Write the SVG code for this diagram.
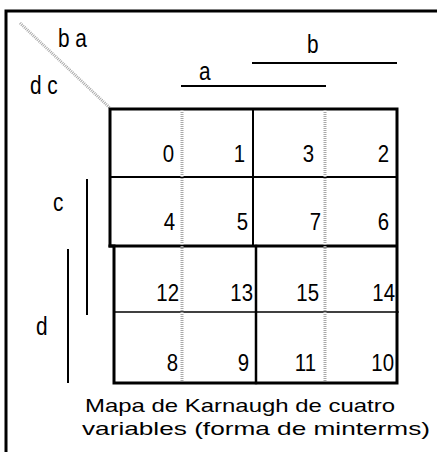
<svg xmlns="http://www.w3.org/2000/svg" width="437" height="452" viewBox="0 0 437 452">
<style>
.blk{stroke:#000;fill:none;stroke-linecap:square}
.gry{stroke:#a8a8a8;stroke-width:3;stroke-dasharray:1 1;fill:none}
.lbl{font-family:"Liberation Sans",Arial,sans-serif;font-size:26px;fill:#000}
.num{font-family:"Liberation Sans",Arial,sans-serif;font-size:24px;fill:#000;text-anchor:end}
.cap{font-family:"Liberation Sans",Arial,sans-serif;font-size:19px;fill:#000}
</style>
<rect width="437" height="452" fill="#fff"/>
<g id="frame">
<path class="blk" d="M6 452 V11 H437" stroke-width="3"/>
</g>
<g id="connectors">
<line class="gry" x1="20" y1="23" x2="110" y2="108" stroke-width="2"/>
<line class="blk" x1="182" y1="86" x2="325" y2="86" stroke-width="2"/>
<line class="blk" x1="253" y1="63" x2="396" y2="63" stroke-width="2"/>
<line class="blk" x1="87" y1="180" x2="87" y2="314" stroke-width="2"/>
<line class="blk" x1="68" y1="250" x2="68" y2="382" stroke-width="2"/>
</g>
<g id="grid">
<path class="blk" stroke-width="3" d="M110 109 H397 V383 H114 V246 H110 Z"/>
<line class="blk" x1="110" y1="177" x2="396" y2="177" stroke-width="2"/>
<line class="blk" x1="110" y1="246" x2="396" y2="246" stroke-width="3"/>
<line class="blk" x1="114" y1="312" x2="398" y2="312" stroke-width="1.5"/>
<line class="blk" x1="253" y1="109" x2="253" y2="246" stroke-width="2"/>
<line class="blk" x1="256" y1="246" x2="256" y2="383" stroke-width="2.5"/>
<line class="gry" x1="182" y1="110" x2="182" y2="382"/>
<line class="gry" x1="325" y1="110" x2="325" y2="382"/>
</g>
<g id="labels">
<text class="lbl" transform="translate(58,47) scale(0.8,1)">b a</text>
<text class="lbl" transform="translate(30,94) scale(0.8,1)">d c</text>
<text class="lbl" transform="translate(199,80) scale(0.8,1)">a</text>
<text class="lbl" transform="translate(307,53) scale(0.8,1)">b</text>
<text class="lbl" transform="translate(53,211) scale(0.8,1)">c</text>
<text class="lbl" transform="translate(36,335) scale(0.8,1)">d</text>
</g>
<g id="cells">
<text class="num" transform="translate(174,162) scale(0.85,1)">0</text>
<text class="num" transform="translate(245,162) scale(0.85,1)">1</text>
<text class="num" transform="translate(314,162) scale(0.85,1)">3</text>
<text class="num" transform="translate(389,162) scale(0.85,1)">2</text>
<text class="num" transform="translate(175,230) scale(0.85,1)">4</text>
<text class="num" transform="translate(248,230) scale(0.85,1)">5</text>
<text class="num" transform="translate(321,230) scale(0.85,1)">7</text>
<text class="num" transform="translate(389,230) scale(0.85,1)">6</text>
<text class="num" transform="translate(179,301) scale(0.85,1)">12</text>
<text class="num" transform="translate(253,301) scale(0.85,1)">13</text>
<text class="num" transform="translate(319,301) scale(0.85,1)">15</text>
<text class="num" transform="translate(395,301) scale(0.85,1)">14</text>
<text class="num" transform="translate(178,371) scale(0.85,1)">8</text>
<text class="num" transform="translate(249,371) scale(0.85,1)">9</text>
<text class="num" transform="translate(316,371) scale(0.85,1)">11</text>
<text class="num" transform="translate(394,371) scale(0.85,1)">10</text>
</g>
<g id="caption">
<text class="cap" x="85" y="412" textLength="310" lengthAdjust="spacingAndGlyphs">Mapa de Karnaugh de cuatro</text>
<text class="cap" x="82" y="435" textLength="348" lengthAdjust="spacingAndGlyphs">variables (forma de minterms)</text>
</g>
</svg>
